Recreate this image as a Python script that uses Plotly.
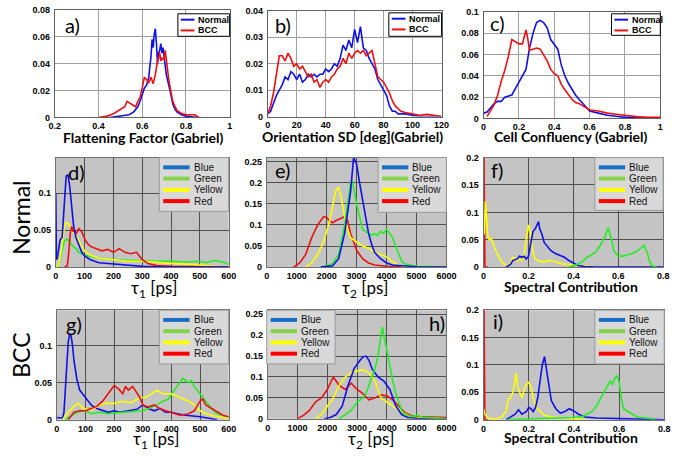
import plotly.graph_objects as go

W, H = 683, 456

# ---------------- DATA ----------------
# a) Flattening Factor
a_norm_x = [0.45, 0.5, 0.54, 0.56, 0.58, 0.59, 0.6, 0.61, 0.62, 0.63, 0.635, 0.64, 0.645, 0.65, 0.655, 0.66, 0.665, 0.67, 0.675, 0.68, 0.685, 0.69, 0.695, 0.7, 0.705, 0.71, 0.72, 0.725, 0.73, 0.74, 0.75, 0.76, 0.78, 0.8, 0.85]
a_norm_y = [0, 0.001, 0.002, 0.004, 0.008, 0.012, 0.018, 0.022, 0.024, 0.03, 0.038, 0.045, 0.058, 0.052, 0.062, 0.066, 0.055, 0.04, 0.048, 0.05, 0.055, 0.048, 0.052, 0.044, 0.04, 0.032, 0.025, 0.02, 0.018, 0.01, 0.006, 0.004, 0.002, 0.001, 0]
a_bcc_x = [0.4, 0.44, 0.47, 0.5, 0.52, 0.53, 0.55, 0.57, 0.58, 0.59, 0.6, 0.61, 0.62, 0.63, 0.64, 0.65, 0.66, 0.67, 0.68, 0.685, 0.69, 0.7, 0.705, 0.71, 0.72, 0.73, 0.74, 0.75, 0.76, 0.78, 0.8, 0.84, 0.86]
a_bcc_y = [0, 0.001, 0.003, 0.006, 0.008, 0.012, 0.01, 0.008, 0.012, 0.015, 0.022, 0.03, 0.028, 0.026, 0.03, 0.025, 0.032, 0.042, 0.048, 0.042, 0.044, 0.043, 0.05, 0.042, 0.03, 0.02, 0.012, 0.008, 0.005, 0.003, 0.002, 0.002, 0]

# b) Orientation SD
b_norm_x = [0, 2, 4, 6, 8, 10, 12, 14, 16, 18, 20, 22, 24, 26, 28, 30, 32, 34, 36, 38, 40, 42, 44, 46, 48, 50, 52, 54, 56, 58, 60, 62, 64, 66, 68, 70, 72, 74, 76, 78, 80, 82, 84, 86, 88, 90, 95, 100, 105, 120]
b_norm_y = [0.001, 0.002, 0.005, 0.008, 0.01, 0.012, 0.015, 0.014, 0.017, 0.016, 0.014, 0.016, 0.013, 0.014, 0.016, 0.015, 0.016, 0.015, 0.016, 0.016, 0.018, 0.017, 0.018, 0.02, 0.019, 0.022, 0.027, 0.025, 0.029, 0.026, 0.033, 0.028, 0.034, 0.026, 0.025, 0.022, 0.02, 0.018, 0.014, 0.012, 0.01, 0.008, 0.004, 0.002, 0.002, 0.001, 0.001, 0.0005, 0, 0]
b_bcc_x = [0, 2, 4, 6, 8, 10, 12, 14, 16, 18, 20, 22, 24, 26, 28, 30, 32, 34, 36, 38, 40, 42, 44, 46, 48, 50, 52, 54, 56, 58, 60, 62, 64, 66, 68, 70, 72, 74, 76, 78, 80, 82, 84, 86, 88, 90, 92, 95, 100, 105, 110, 115, 120]
b_bcc_y = [0.001, 0.004, 0.009, 0.016, 0.023, 0.023, 0.021, 0.024, 0.022, 0.019, 0.02, 0.018, 0.019, 0.017, 0.015, 0.016, 0.013, 0.014, 0.011, 0.013, 0.014, 0.013, 0.015, 0.016, 0.018, 0.019, 0.022, 0.02, 0.024, 0.022, 0.024, 0.025, 0.024, 0.025, 0.023, 0.024, 0.025, 0.02, 0.015, 0.014, 0.013, 0.011, 0.009, 0.006, 0.004, 0.003, 0.002, 0.0015, 0.001, 0.0005, 0.0008, 0.0003, 0]

# c) Cell Confluency
c_norm_x = [0, 0.02, 0.04, 0.06, 0.08, 0.1, 0.12, 0.14, 0.16, 0.18, 0.2, 0.22, 0.24, 0.26, 0.28, 0.3, 0.32, 0.34, 0.36, 0.38, 0.4, 0.42, 0.44, 0.46, 0.48, 0.5, 0.52, 0.54, 0.56, 0.6, 0.65, 0.7, 0.75, 0.8, 0.9, 1.0]
c_norm_y = [0.005, 0.006, 0.01, 0.014, 0.016, 0.016, 0.02, 0.021, 0.022, 0.028, 0.034, 0.04, 0.046, 0.066, 0.08, 0.09, 0.092, 0.09, 0.085, 0.074, 0.07, 0.065, 0.05, 0.04, 0.033, 0.027, 0.022, 0.018, 0.014, 0.007, 0.005, 0.003, 0.002, 0.001, 0.001, 0]
c_bcc_x = [0.02, 0.04, 0.06, 0.08, 0.1, 0.12, 0.14, 0.16, 0.18, 0.2, 0.22, 0.24, 0.25, 0.26, 0.28, 0.3, 0.32, 0.34, 0.36, 0.38, 0.4, 0.42, 0.44, 0.46, 0.48, 0.5, 0.52, 0.54, 0.56, 0.6, 0.65, 0.7, 0.75, 0.8, 0.85, 0.9, 1.0]
c_bcc_y = [0.002, 0.008, 0.013, 0.022, 0.035, 0.045, 0.058, 0.074, 0.072, 0.07, 0.07, 0.083, 0.075, 0.064, 0.065, 0.066, 0.065, 0.06, 0.054, 0.046, 0.042, 0.04, 0.032, 0.027, 0.022, 0.018, 0.015, 0.014, 0.012, 0.008, 0.007, 0.005, 0.004, 0.003, 0.002, 0.001, 0.001]

# d) Normal tau1
d_blue_x = [0, 2, 5, 10, 15, 22, 28, 32, 36, 42, 48, 55, 62, 70, 80, 90, 100, 120, 150, 200, 250, 300, 350, 400, 600]
d_blue_y = [0.1, 0.01, 0.012, 0.028, 0.037, 0.04, 0.07, 0.1, 0.123, 0.125, 0.11, 0.08, 0.055, 0.04, 0.03, 0.02, 0.015, 0.01, 0.006, 0.004, 0.002, 0.001, 0.0005, 0, 0]
d_green_x = [0, 10, 20, 25, 30, 40, 50, 60, 70, 80, 100, 120, 150, 200, 250, 300, 350, 400, 450, 500, 520, 550, 580, 600]
d_green_y = [0, 0.003, 0.02, 0.03, 0.036, 0.038, 0.033, 0.028, 0.025, 0.02, 0.016, 0.014, 0.012, 0.01, 0.009, 0.008, 0.008, 0.008, 0.007, 0.008, 0.006, 0.009, 0.007, 0.004]
d_yellow_x = [0, 10, 20, 30, 35, 45, 55, 65, 75, 90, 100, 120, 150, 200, 250, 300, 350, 400, 450, 500, 550, 600]
d_yellow_y = [0, 0.003, 0.025, 0.055, 0.06, 0.058, 0.05, 0.045, 0.04, 0.028, 0.022, 0.016, 0.012, 0.01, 0.008, 0.008, 0.006, 0.005, 0.004, 0.002, 0.001, 0]
d_red_x = [30, 40, 45, 50, 55, 60, 65, 70, 80, 90, 100, 110, 120, 140, 160, 180, 200, 220, 240, 260, 280, 290, 300, 320, 350, 400, 500, 600]
d_red_y = [0, 0.002, 0.02, 0.045, 0.055, 0.048, 0.05, 0.045, 0.052, 0.048, 0.038, 0.032, 0.028, 0.025, 0.022, 0.024, 0.02, 0.025, 0.02, 0.018, 0.02, 0.015, 0.01, 0.005, 0.002, 0.001, 0, 0]

# e) Normal tau2
e_blue_x = [1800, 2200, 2400, 2600, 2700, 2800, 2900, 3000, 3100, 3200, 3300, 3400, 3500, 3600, 3800, 4000, 4200, 4500, 5000, 6000]
e_blue_y = [0, 0.003, 0.02, 0.08, 0.13, 0.18, 0.26, 0.245, 0.2, 0.16, 0.12, 0.08, 0.055, 0.035, 0.02, 0.01, 0.005, 0.003, 0.001, 0]
e_green_x = [1800, 2000, 2200, 2400, 2600, 2700, 2800, 2850, 2900, 3000, 3100, 3200, 3300, 3400, 3500, 3600, 3700, 3800, 3900, 4000, 4100, 4200, 4300, 4400, 4500, 4600, 4800, 5000, 6000]
e_green_y = [0, 0.003, 0.008, 0.03, 0.1, 0.15, 0.2, 0.205, 0.19, 0.15, 0.12, 0.09, 0.085, 0.08, 0.075, 0.08, 0.075, 0.085, 0.08, 0.09, 0.08, 0.07, 0.05, 0.03, 0.015, 0.008, 0.005, 0.002, 0]
e_yellow_x = [1300, 1500, 1700, 1900, 2100, 2200, 2300, 2400, 2500, 2600, 2700, 2800, 3000, 3200, 3400, 3600, 3800, 4000, 4200, 4400, 4600, 5000, 6000]
e_yellow_y = [0, 0.01, 0.03, 0.06, 0.11, 0.15, 0.18, 0.19, 0.16, 0.12, 0.09, 0.07, 0.06, 0.05, 0.045, 0.035, 0.03, 0.025, 0.012, 0.005, 0.002, 0.001, 0]
e_red_x = [900, 1100, 1300, 1500, 1700, 1900, 2000, 2100, 2200, 2300, 2450, 2600, 2700, 2800, 2900, 3000, 3200, 3400, 3600, 4000, 5000, 6000]
e_red_y = [0, 0.01, 0.03, 0.07, 0.1, 0.12, 0.118, 0.11, 0.105, 0.11, 0.115, 0.12, 0.11, 0.08, 0.06, 0.04, 0.02, 0.01, 0.005, 0.002, 0.001, 0]

# f) Normal spectral contribution
f_blue_x = [0.1, 0.12, 0.13, 0.15, 0.16, 0.17, 0.18, 0.19, 0.2, 0.21, 0.22, 0.23, 0.24, 0.245, 0.25, 0.26, 0.27, 0.28, 0.3, 0.32, 0.34, 0.36, 0.38, 0.4, 0.42, 0.45, 0.5, 0.8]
f_blue_y = [0, 0.005, 0.012, 0.015, 0.02, 0.018, 0.02, 0.015, 0.02, 0.04, 0.065, 0.07, 0.08, 0.083, 0.07, 0.06, 0.045, 0.04, 0.03, 0.025, 0.022, 0.018, 0.012, 0.007, 0.003, 0.001, 0, 0]
f_green_x = [0.38, 0.4, 0.42, 0.44, 0.46, 0.48, 0.5, 0.52, 0.54, 0.555, 0.57, 0.58, 0.6, 0.62, 0.64, 0.66, 0.68, 0.7, 0.715, 0.73, 0.74, 0.75, 0.77]
f_green_y = [0, 0.002, 0.005, 0.01, 0.018, 0.022, 0.028, 0.04, 0.055, 0.072, 0.05, 0.03, 0.02, 0.02, 0.022, 0.025, 0.028, 0.035, 0.04, 0.025, 0.01, 0.003, 0]
f_yellow_x = [0.003, 0.008, 0.012, 0.018, 0.025, 0.035, 0.045, 0.06, 0.08, 0.1, 0.11, 0.12, 0.13, 0.14, 0.15, 0.16, 0.17, 0.18, 0.19, 0.2, 0.21, 0.22, 0.23, 0.25, 0.27, 0.3, 0.32, 0.35, 0.4, 0.45, 0.5]
f_yellow_y = [0.06, 0.12, 0.1, 0.06, 0.05, 0.052, 0.04, 0.025, 0.01, 0.003, 0.002, 0.008, 0.018, 0.015, 0.012, 0.014, 0.012, 0.02, 0.05, 0.077, 0.06, 0.025, 0.015, 0.01, 0.01, 0.012, 0.01, 0.006, 0.004, 0.002, 0]
f_red_x = [0.0, 0.003, 0.006, 0.02]
f_red_y = [0.3, 0.1, 0.0, 0.0]

# g) BCC tau1
g_blue_x = [0, 10, 20, 25, 30, 35, 40, 45, 50, 55, 60, 70, 80, 90, 100, 110, 120, 140, 160, 180, 200, 220, 250, 280, 300, 320, 340, 360, 380, 400, 420, 450, 500, 540, 560]
g_blue_y = [0.003, 0.002, 0.002, 0.01, 0.04, 0.08, 0.105, 0.116, 0.113, 0.1, 0.08, 0.055, 0.04, 0.035, 0.03, 0.025, 0.02, 0.015, 0.012, 0.01, 0.012, 0.01, 0.012, 0.014, 0.02, 0.015, 0.012, 0.015, 0.01, 0.01, 0.008, 0.006, 0.004, 0.002, 0]
g_green_x = [30, 50, 70, 100, 120, 150, 180, 200, 250, 300, 320, 350, 370, 390, 410, 430, 440, 460, 470, 480, 500, 520, 540, 560, 580, 600]
g_green_y = [0, 0.005, 0.01, 0.012, 0.008, 0.01, 0.008, 0.009, 0.01, 0.012, 0.015, 0.02, 0.025, 0.028, 0.04, 0.05, 0.056, 0.05, 0.053, 0.045, 0.035, 0.025, 0.015, 0.008, 0.005, 0.003]
g_yellow_x = [20, 40, 60, 75, 90, 110, 130, 150, 170, 200, 230, 260, 290, 310, 330, 350, 370, 400, 430, 460, 480, 500, 520, 550, 600]
g_yellow_y = [0, 0.01, 0.018, 0.022, 0.016, 0.013, 0.015, 0.02, 0.022, 0.022, 0.025, 0.023, 0.03, 0.03, 0.035, 0.04, 0.035, 0.035, 0.03, 0.025, 0.02, 0.012, 0.008, 0.005, 0.002]
g_red_x = [40, 50, 60, 80, 100, 120, 140, 160, 180, 200, 215, 230, 240, 250, 265, 280, 290, 300, 320, 340, 360, 380, 400, 430, 460, 480, 500, 510, 520, 540, 560, 580, 600]
g_red_y = [0, 0.005, 0.01, 0.012, 0.012, 0.015, 0.018, 0.025, 0.035, 0.046, 0.042, 0.035, 0.045, 0.04, 0.045, 0.035, 0.03, 0.02, 0.017, 0.02, 0.015, 0.012, 0.01, 0.006, 0.008, 0.012, 0.025, 0.028, 0.02, 0.015, 0.01, 0.006, 0.004]

# h) BCC tau2
h_blue_x = [1900, 2100, 2300, 2500, 2700, 2900, 3100, 3200, 3300, 3400, 3500, 3700, 3900, 4100, 4200, 4300, 4500, 4700, 5000, 6000]
h_blue_y = [0, 0.003, 0.01, 0.03, 0.08, 0.12, 0.14, 0.148, 0.15, 0.14, 0.12, 0.1, 0.09, 0.07, 0.05, 0.03, 0.01, 0.003, 0.001, 0]
h_green_x = [2400, 2600, 2800, 3000, 3100, 3200, 3300, 3400, 3500, 3600, 3700, 3800, 3850, 3900, 4000, 4100, 4200, 4300, 4400, 4500, 4600, 4800, 5000, 5200, 5500, 6000]
h_green_y = [0, 0.01, 0.02, 0.04, 0.045, 0.05, 0.06, 0.08, 0.1, 0.12, 0.15, 0.2, 0.22, 0.2, 0.16, 0.12, 0.09, 0.06, 0.04, 0.02, 0.01, 0.005, 0.008, 0.004, 0.002, 0]
h_yellow_x = [1600, 1800, 2000, 2200, 2400, 2600, 2800, 3000, 3200, 3400, 3600, 3700, 3800, 4000, 4200, 4400, 4600, 4800, 5000, 5500, 6000]
h_yellow_y = [0, 0.01, 0.03, 0.05, 0.08, 0.1, 0.11, 0.115, 0.117, 0.11, 0.09, 0.07, 0.05, 0.04, 0.03, 0.02, 0.012, 0.005, 0.003, 0.002, 0]
h_red_x = [1000, 1200, 1400, 1600, 1800, 2000, 2200, 2400, 2600, 2800, 3000, 3200, 3400, 3600, 3800, 4000, 4200, 4400, 4600, 4800, 5000, 5500, 6000]
h_red_y = [0, 0.008, 0.02, 0.04, 0.05, 0.07, 0.1, 0.08, 0.07, 0.085, 0.07, 0.06, 0.045, 0.05, 0.057, 0.055, 0.045, 0.03, 0.015, 0.008, 0.005, 0.004, 0.003]

# i) BCC spectral contribution
i_blue_x = [0.1, 0.12, 0.14, 0.155, 0.17, 0.19, 0.2, 0.21, 0.22, 0.23, 0.24, 0.25, 0.26, 0.27, 0.28, 0.29, 0.3, 0.32, 0.34, 0.36, 0.38, 0.4, 0.42, 0.45, 0.5, 0.6, 0.7, 0.8]
i_blue_y = [0, 0.005, 0.01, 0.018, 0.01, 0.015, 0.022, 0.02, 0.015, 0.022, 0.04, 0.07, 0.1, 0.115, 0.09, 0.06, 0.035, 0.02, 0.012, 0.015, 0.02, 0.016, 0.01, 0.005, 0.003, 0.002, 0.001, 0]
i_green_x = [0.1, 0.2, 0.3, 0.4, 0.44, 0.46, 0.48, 0.5, 0.52, 0.54, 0.56, 0.57, 0.58, 0.59, 0.6, 0.61, 0.62, 0.64, 0.66, 0.68, 0.72, 0.76]
i_green_y = [0, 0.001, 0.002, 0.004, 0.006, 0.01, 0.015, 0.025, 0.04, 0.055, 0.07, 0.065, 0.075, 0.08, 0.07, 0.04, 0.02, 0.015, 0.01, 0.005, 0.003, 0.001]
i_yellow_x = [0, 0.005, 0.02, 0.05, 0.08, 0.1, 0.11, 0.12, 0.13, 0.14, 0.145, 0.15, 0.16, 0.17, 0.18, 0.19, 0.2, 0.21, 0.22, 0.23, 0.25, 0.27, 0.3, 0.35, 0.4, 0.45]
i_yellow_y = [0.02, 0.01, 0.003, 0.001, 0.005, 0.015, 0.038, 0.04, 0.05, 0.07, 0.085, 0.06, 0.05, 0.04, 0.055, 0.065, 0.068, 0.06, 0.04, 0.025, 0.015, 0.008, 0.005, 0.003, 0.001, 0]
i_red_x = [0.0, 0.003, 0.006, 0.02]
i_red_y = [0.3, 0.1, 0.0, 0.0]

ROW1_NAMES = ["Normal", "BCC"]
SPEC_NAMES = ["Blue", "Green", "Yellow", "Red"]

# ---------------- STYLE ----------------
C_BLUE = "#1010e8"
C_RED = "#ee1010"
C_GREEN = "#22ee22"
C_YELLOW = "#ffff00"
LEG_COLORS = ["#1a6fc4", "#86d44a", "#ffff00", "#ff0000"]

TICKFONT = dict(family="Liberation Sans", size=9, color="black", weight="bold")
TITLE_FAM = "Lato"

fig = go.Figure()

panels = [
    ("a", (50, 229, 5, 115), [0.2, 1.0], 0.2, [0, 0.08], 0.02, "w"),
    ("b", (268, 446, 6, 114), [0, 120], 20, [0, 0.04], 0.01, "w"),
    ("c", (489, 670, 7, 116), [0, 1.0], 0.2, [0, 0.1], 0.02, "w"),
    ("d", (51, 228, 156, 268), [0, 600], 100, [0, 0.148], 0.05, "g"),
    ("e", (267, 451, 156, 268), [0, 6000], 1000, [0, 0.26], 0.05, "g"),
    ("f", (489, 673, 156, 268), [0, 0.8], 0.2, [0, 0.2], 0.05, "g"),
    ("g", (52, 228, 312, 424), [0, 600], 100, [0, 0.148], 0.05, "g"),
    ("h", (268, 451, 312, 423), [0, 6000], 1000, [0, 0.26], 0.05, "g"),
    ("i", (489, 674, 312, 424), [0, 0.8], 0.2, [0, 0.2], 0.05, "g"),
]

series = {
    "a": [(a_norm_x, a_norm_y, C_BLUE), (a_bcc_x, a_bcc_y, C_RED)],
    "b": [(b_norm_x, b_norm_y, C_BLUE), (b_bcc_x, b_bcc_y, C_RED)],
    "c": [(c_norm_x, c_norm_y, C_BLUE), (c_bcc_x, c_bcc_y, C_RED)],
    "d": [(d_green_x, d_green_y, C_GREEN), (d_yellow_x, d_yellow_y, C_YELLOW), (d_red_x, d_red_y, C_RED), (d_blue_x, d_blue_y, C_BLUE)],
    "e": [(e_red_x, e_red_y, C_RED), (e_yellow_x, e_yellow_y, C_YELLOW), (e_green_x, e_green_y, C_GREEN), (e_blue_x, e_blue_y, C_BLUE)],
    "f": [(f_red_x, f_red_y, C_RED), (f_yellow_x, f_yellow_y, C_YELLOW), (f_blue_x, f_blue_y, C_BLUE), (f_green_x, f_green_y, C_GREEN)],
    "g": [(g_blue_x, g_blue_y, C_BLUE), (g_green_x, g_green_y, C_GREEN), (g_yellow_x, g_yellow_y, C_YELLOW), (g_red_x, g_red_y, C_RED)],
    "h": [(h_red_x, h_red_y, C_RED), (h_yellow_x, h_yellow_y, C_YELLOW), (h_blue_x, h_blue_y, C_BLUE), (h_green_x, h_green_y, C_GREEN)],
    "i": [(i_red_x, i_red_y, C_RED), (i_yellow_x, i_yellow_y, C_YELLOW), (i_blue_x, i_blue_y, C_BLUE), (i_green_x, i_green_y, C_GREEN)],
}

shapes = []
annotations = []

def px(x):
    return x / W

def py(y):
    return 1 - y / H

for idx, (key, (l, r, t, b), xr, xd, yr, yd, style) in enumerate(panels, start=1):
    xa = "x" if idx == 1 else f"x{idx}"
    ya = "y" if idx == 1 else f"y{idx}"
    for xs, ys, col in series[key]:
        fig.add_trace(go.Scatter(x=xs, y=ys, mode="lines", xaxis=xa, yaxis=ya,
                                 line=dict(color=col, width=1.6), showlegend=False,
                                 hoverinfo="skip"))
    grid = "#a0a0a0" if style == "w" else "#505050"
    frame = "#606060" if style == "w" else "#707070"
    xkw = dict(domain=[px(l), px(r)], range=xr, dtick=xd, tick0=0, showgrid=True,
               gridcolor=grid, gridwidth=1, zeroline=False, showline=True, mirror=True,
               linecolor=frame, linewidth=1, ticks="", tickfont=TICKFONT,
               anchor=ya, ticklabelstandoff=0, fixedrange=True)
    ykw = dict(domain=[py(b), py(t)], range=yr, dtick=yd, tick0=0, showgrid=True,
               gridcolor=grid, gridwidth=1, zeroline=False, showline=True, mirror=True,
               linecolor=frame, linewidth=1, ticks="", tickfont=TICKFONT,
               anchor=xa, ticklabelstandoff=2, fixedrange=True)
    fig.layout[("xaxis" if idx == 1 else f"xaxis{idx}")] = xkw
    fig.layout[("yaxis" if idx == 1 else f"yaxis{idx}")] = ykw
    shapes.append(dict(type="rect", xref="paper", yref="paper", x0=px(l), x1=px(r),
                       y0=py(b), y1=py(t), fillcolor="white" if style == "w" else "#c4c4c4",
                       line=dict(width=0), layer="below"))

def legend_row1(l, r, t, b):
    shapes.append(dict(type="rect", xref="paper", yref="paper", x0=px(l), x1=px(r),
                       y0=py(b), y1=py(t), fillcolor="white", line=dict(color="black", width=1)))
    for k, (name, col) in enumerate(zip(ROW1_NAMES, [C_BLUE, C_RED])):
        yy = t + 6 + k * 11
        shapes.append(dict(type="line", xref="paper", yref="paper", x0=px(l + 3), x1=px(l + 17),
                           y0=py(yy), y1=py(yy), line=dict(color=col, width=2)))
        annotations.append(dict(x=px(l + 19), y=py(yy), xref="paper", yref="paper", text=name,
                                showarrow=False, xanchor="left", yanchor="middle",
                                font=dict(family="Liberation Sans", size=9, color="black", weight="bold")))

def legend_spec(l, r, t, b):
    shapes.append(dict(type="rect", xref="paper", yref="paper", x0=px(l), x1=px(r),
                       y0=py(b), y1=py(t), fillcolor="#d9d9d9", line=dict(color="#9a9a9a", width=1)))
    for k, (name, col) in enumerate(zip(SPEC_NAMES, LEG_COLORS)):
        yy = t + 10 + k * 11.5
        shapes.append(dict(type="line", xref="paper", yref="paper", x0=px(l + 4), x1=px(l + 31),
                           y0=py(yy), y1=py(yy), line=dict(color=col, width=4)))
        annotations.append(dict(x=px(l + 33), y=py(yy), xref="paper", yref="paper", text=name,
                                showarrow=False, xanchor="left", yanchor="middle",
                                font=dict(family="Liberation Sans", size=10, color="#111")))

legend_row1(176, 229, 9, 32)
legend_row1(392, 446, 8, 32)
legend_row1(620, 670, 9, 31)
legend_spec(157, 228, 156, 211)
legend_spec(381, 451, 156, 212)
legend_spec(603, 673, 156, 210)
legend_spec(157, 228, 312, 367)
legend_spec(267, 337, 312, 367)
legend_spec(603, 674, 312, 367)

for lab, x, y in [("a)", 58, 20), ("b)", 273, 20), ("c)", 494, 18), ("d)", 61, 171),
                  ("e)", 273, 169), ("f)", 495, 169), ("g)", 59, 326), ("h)", 431, 325),
                  ("i)", 497, 323)]:
    annotations.append(dict(x=px(x), y=py(y), xref="paper", yref="paper", text=lab,
                            showarrow=False, xanchor="left", yanchor="middle",
                            font=dict(family=TITLE_FAM, size=20, color="black")))

bold_t = dict(family=TITLE_FAM, size=14, color="black", weight="bold")
tau_f = dict(family=TITLE_FAM, size=17, color="black")
for txt, x, y, f in [("Flattening Factor (Gabriel)", 141, 135, bold_t),
                     ("Orientation SD [deg](Gabriel)", 355, 134, bold_t),
                     ("Cell Confluency (Gabriel)", 578, 134, bold_t),
                     ("τ<sub>1</sub> [ps]", 152, 290, tau_f),
                     ("τ<sub>2</sub> [ps]", 368, 290, tau_f),
                     ("Spectral Contribution", 579, 288, bold_t),
                     ("τ<sub>1</sub> [ps]", 154, 445, tau_f),
                     ("τ<sub>2</sub> [ps]", 374, 445, tau_f),
                     ("Spectral Contribution", 579, 442, bold_t)]:
    annotations.append(dict(x=px(x), y=py(y), xref="paper", yref="paper", text=txt,
                            showarrow=False, xanchor="center", yanchor="middle", font=f))

for txt, y in [("Normal", 218), ("BCC", 358)]:
    annotations.append(dict(x=px(16), y=py(y), xref="paper", yref="paper", text=txt,
                            showarrow=False, textangle=-90, xanchor="center", yanchor="middle",
                            font=dict(family=TITLE_FAM, size=23, color="black")))

fig.update_layout(width=W, height=H, margin=dict(l=0, r=0, t=0, b=0),
                  paper_bgcolor="white", plot_bgcolor="rgba(0,0,0,0)",
                  shapes=shapes, annotations=annotations, showlegend=False)

fig.write_html("out.html", config={"displayModeBar": False},
               post_script="document.body.style.margin='0';document.body.style.padding='0';"
                           "document.documentElement.style.overflow='hidden';")
